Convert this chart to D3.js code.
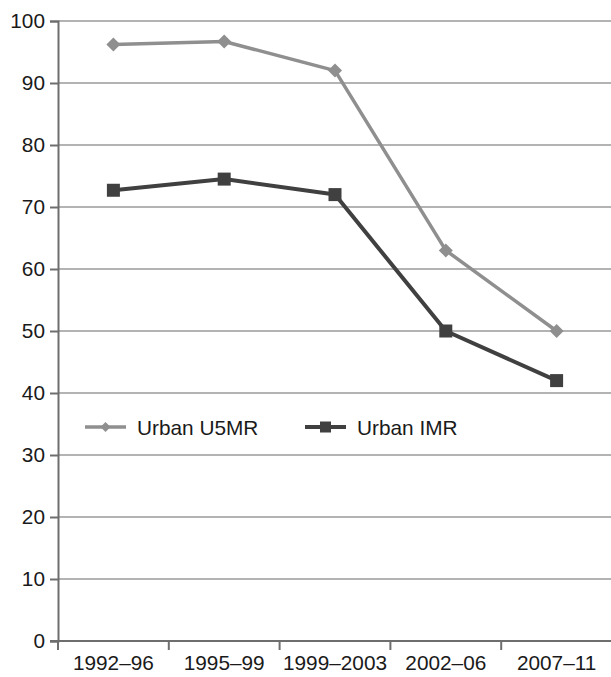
<!DOCTYPE html>
<html>
<head>
<meta charset="utf-8">
<script src="https://cdn.jsdelivr.net/npm/d3@7"></script>
<style>
  html, body { margin: 0; padding: 0; background: #fff; }
  svg { display: block; }
  text { font-family: "Liberation Sans", Arial, sans-serif; fill: #1a1a1a; }
</style>
</head>
<body>
<svg id="chart" width="611" height="677"></svg>
<script>
// Survey periods and mortality rates (per 1,000 live births)
const periods = ["1992–96", "1995–99", "1999–2003", "2002–06", "2007–11"];
const urbanU5MR = [96.2, 96.7, 92.0, 63.0, 50.0];
const urbanIMR = [72.7, 74.5, 72.0, 50.0, 42.0];
const yTicks = [0, 10, 20, 30, 40, 50, 60, 70, 80, 90, 100];
const seriesNames = ["Urban U5MR", "Urban IMR"];

const svg = d3.select("#chart");
const margin = { left: 58, right: 0, top: 21, bottom: 36 };
const width = 612 - margin.left;
const height = 641 - margin.top;
const fontSize = "20.8px";

const g = svg.append("g").attr("transform", `translate(${margin.left},${margin.top})`);

const x = d3.scaleBand().domain(periods).range([0, width]);
const y = d3.scaleLinear().domain([0, 100]).range([height, 0]);

// horizontal gridlines
g.append("g")
  .selectAll("line")
  .data(yTicks.filter(t => t > 0))
  .join("line")
  .attr("x1", 0).attr("x2", width)
  .attr("y1", d => y(d)).attr("y2", d => y(d))
  .attr("stroke", "#9a9a9a").attr("stroke-width", 1.6);

// y axis
const yAxis = g.append("g")
  .call(d3.axisLeft(y).tickValues(yTicks).tickSize(8).tickPadding(5).tickFormat(d3.format("d")));
yAxis.select(".domain").attr("stroke", "#6e6e6e").attr("stroke-width", 2);
yAxis.selectAll(".tick line").attr("stroke", "#6e6e6e").attr("stroke-width", 2);
yAxis.selectAll(".tick text").style("font-size", fontSize).attr("fill", "#1a1a1a");

// x axis with ticks at band boundaries
const xAxis = g.append("g").attr("transform", `translate(0,${height})`);
xAxis.append("line")
  .attr("x1", -8).attr("x2", width)
  .attr("stroke", "#6e6e6e").attr("stroke-width", 2);
const bounds = periods.map(p => x(p)).concat([width]);
xAxis.selectAll("line.bt")
  .data(bounds)
  .join("line")
  .attr("class", "bt")
  .attr("x1", d => d).attr("x2", d => d)
  .attr("y1", 0).attr("y2", 9)
  .attr("stroke", "#6e6e6e").attr("stroke-width", 2);
xAxis.selectAll("text")
  .data(periods)
  .join("text")
  .attr("x", d => x(d) + x.bandwidth() / 2)
  .attr("y", 29)
  .attr("text-anchor", "middle")
  .style("font-size", fontSize)
  .text(d => d);

const cx = d => x(d) + x.bandwidth() / 2;
const line = d3.line().x(d => cx(d[0])).y(d => y(d[1]));

const u5 = periods.map((p, i) => [p, urbanU5MR[i]]);
const imr = periods.map((p, i) => [p, urbanIMR[i]]);

const u5Color = "#8f8f8f";
const imrColor = "#404040";

// square rotated 45° for the diamond markers
const diamondPath = r => `M0,${-r}L${r},0L0,${r}L${-r},0Z`;

// U5MR series
g.append("path").datum(u5)
  .attr("d", line).attr("fill", "none")
  .attr("stroke", u5Color).attr("stroke-width", 3.5).attr("stroke-linejoin", "round");
g.selectAll("path.u5m").data(u5).join("path")
  .attr("class", "u5m")
  .attr("transform", d => `translate(${cx(d[0])},${y(d[1])})`)
  .attr("d", diamondPath(7))
  .attr("fill", u5Color);

// IMR series
g.append("path").datum(imr)
  .attr("d", line).attr("fill", "none")
  .attr("stroke", imrColor).attr("stroke-width", 4).attr("stroke-linejoin", "round");
g.selectAll("rect.imm").data(imr).join("rect")
  .attr("class", "imm")
  .attr("x", d => cx(d[0]) - 6.5).attr("y", d => y(d[1]) - 6.5)
  .attr("width", 13).attr("height", 13)
  .attr("fill", imrColor);

// legend
const legend = svg.append("g").attr("transform", "translate(0,427)");
const legendItems = [
  { name: seriesNames[0], color: u5Color, x: 85, marker: "diamond" },
  { name: seriesNames[1], color: imrColor, x: 305, marker: "square" }
];
legendItems.forEach(item => {
  const lg = legend.append("g").attr("transform", `translate(${item.x},0)`);
  lg.append("line").attr("x1", 0).attr("x2", 41)
    .attr("stroke", item.color).attr("stroke-width", item.marker === "square" ? 4 : 3.5);
  if (item.marker === "diamond") {
    lg.append("path").attr("transform", "translate(20.5,0)")
      .attr("d", diamondPath(5)).attr("fill", item.color);
  } else {
    lg.append("rect").attr("x", 15).attr("y", -5.5).attr("width", 11).attr("height", 11)
      .attr("fill", item.color);
  }
  lg.append("text").attr("x", 52).attr("y", 7.5)
    .style("font-size", fontSize).text(item.name);
});
</script>
</body>
</html>
